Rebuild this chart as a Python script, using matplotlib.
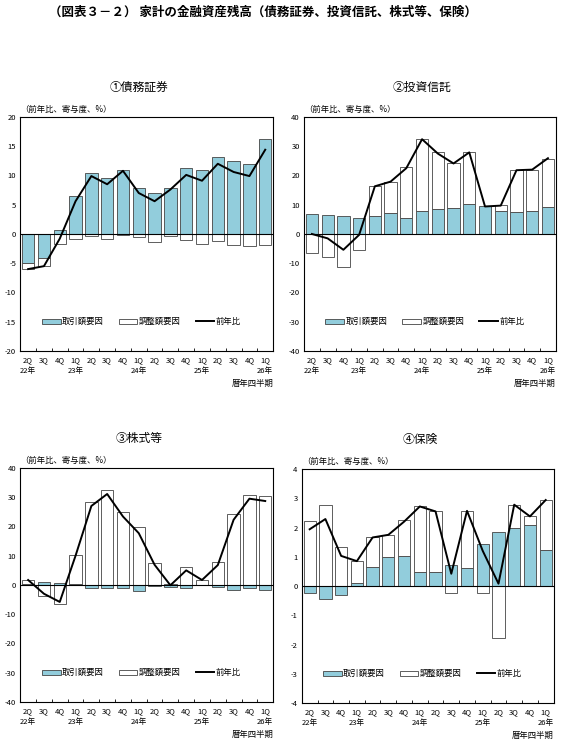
import matplotlib
matplotlib.use("Agg")
import matplotlib.pyplot as plt
import numpy as np
from matplotlib.patches import Patch
from matplotlib.lines import Line2D

plt.rcParams['font.family'] = ['Noto Sans CJK JP', 'DejaVu Sans']
plt.rcParams['axes.unicode_minus'] = False

# data
quarters = ['2Q', '3Q', '4Q', '1Q', '2Q', '3Q', '4Q', '1Q',
            '2Q', '3Q', '4Q', '1Q', '2Q', '3Q', '4Q', '1Q']
year_pos = [0, 3, 7, 11, 15]
year_labels = ['22年', '23年', '24年', '25年', '26年']

# ① 債務証券
tx1 = [-5.0, -4.15, 0.7, 6.55, 10.45, 9.5, 11.0, 7.8, 7.0, 7.8, 11.2, 10.9, 13.2, 12.5, 11.95, 16.3]
adj1 = [-1.0, -1.3, -1.65, -0.85, -0.4, -0.9, -0.2, -0.6, -1.4, -0.4, -1.1, -1.75, -1.25, -1.9, -2.1, -1.9]
yoy1 = [-6.0, -5.5, -0.8, 5.6, 9.9, 8.5, 10.8, 7.0, 5.6, 7.6, 10.1, 9.1, 12.0, 10.6, 9.9, 14.4]

# ② 投資信託
tx2 = [6.85, 6.4, 6.0, 5.35, 6.0, 7.1, 5.35, 8.0, 8.7, 9.0, 10.1, 9.5, 7.75, 7.65, 7.75, 9.1]
adj2 = [-6.6, -8.0, -11.4, -5.6, 10.4, 10.8, 17.45, 24.4, 19.2, 15.1, 17.8, 0.0, 2.05, 14.15, 14.25, 16.7]
yoy2 = [0.0, -1.5, -5.4, -0.3, 16.3, 17.9, 22.5, 32.4, 27.5, 24.1, 27.9, 9.4, 9.7, 21.8, 22.0, 25.9]

# ③ 株式等
tx3 = [0.5, 0.9, 0.7, 0.4, -1.2, -1.0, -1.2, -1.9, -0.3, -0.6, -1.0, -0.1, -0.8, -1.8, -1.1, -1.8]
adj3 = [1.3, -3.8, -6.4, 9.7, 28.5, 32.4, 24.9, 19.8, 7.5, 0.3, 6.3, 1.7, 7.7, 24.2, 30.8, 30.4]
yoy3 = [1.7, -3.0, -5.8, 10.0, 27.0, 31.1, 23.4, 17.7, 6.9, -0.1, 5.0, 1.7, 6.8, 22.3, 29.5, 28.7]

# ④ 保険
tx4 = [-0.25, -0.45, -0.3, 0.1, 0.65, 0.98, 1.02, 0.48, 0.48, 0.72, 0.6, 1.43, 1.85, 1.98, 2.1, 1.22]
adj4 = [2.22, 2.76, 1.34, 0.75, 1.01, 0.76, 1.22, 2.24, 2.07, -0.25, 1.97, -0.25, -1.77, 0.8, 0.28, 1.72]
yoy4 = [1.94, 2.29, 1.03, 0.85, 1.66, 1.75, 2.2, 2.72, 2.55, 0.42, 2.57, 1.2, 0.08, 2.78, 2.38, 2.94]

panels = [
    ('①債務証券', tx1, adj1, yoy1, 20, 5, [0.036, 0.5295, 0.450, 0.3137]),
    ('②投資信託', tx2, adj2, yoy2, 40, 10, [0.541, 0.5295, 0.448, 0.3137]),
    ('③株式等', tx3, adj3, yoy3, 40, 10, [0.036, 0.059, 0.450, 0.3137]),
    ('④保険', tx4, adj4, yoy4, 4, 1, [0.537, 0.0576, 0.448, 0.3137]),
]

BLUE = '#92CDDC'
EDGE = '#444444'

fig = plt.figure(figsize=(5.62, 7.46), dpi=100)
fig.text(0.468, 0.992, '（図表３－２） 家計の金融資産残高（債務証券、投資信託、株式等、保険）',
         ha='center', va='top', fontsize=9, fontweight='bold')

for title, tx, adj, yoy, lim, step, rect in panels:
    ax = fig.add_axes(rect)
    x = np.arange(len(quarters))
    tx = np.array(tx)
    adj = np.array(adj)
    # stack: same sign on top of blue, otherwise from zero
    bottom = np.where(np.sign(adj) == np.sign(tx), tx, 0)
    ax.bar(x, tx, width=0.78, color=BLUE, edgecolor=EDGE, linewidth=0.6, zorder=2)
    ax.bar(x, adj, width=0.78, bottom=bottom, color='white', edgecolor=EDGE,
           linewidth=0.6, zorder=2)
    ax.plot(x, yoy, color='black', lw=1.4, zorder=4)
    ax.axhline(0, color='black', lw=0.8, zorder=3)

    ax.set_xlim(-0.5, len(quarters) - 0.5)
    ax.set_ylim(-lim, lim)
    yt = np.arange(-lim, lim + step / 2, step)
    ax.set_yticks(yt)
    ax.set_yticklabels([f'{v:g}' for v in yt])
    ax.set_xticks(x)
    ax.set_xticklabels(quarters)
    ax.set_xticks(np.arange(0.5, len(quarters) - 0.5, 1), minor=True)
    ax.tick_params(axis='x', which='major', length=0, labelsize=5.5, pad=4)
    ax.tick_params(axis='x', which='minor', direction='in', length=2.5, width=0.6)
    ax.tick_params(axis='y', direction='in', length=0, labelsize=5.5, pad=3)
    for s in ax.spines.values():
        s.set_linewidth(0.8)

    for p, lab in zip(year_pos, year_labels):
        ax.text(p, -0.07, lab, transform=ax.get_xaxis_transform(), ha='center', va='top',
                fontsize=5.5)
    ax.text(1.0, -0.118, '暦年四半期', transform=ax.transAxes, ha='right', va='top', fontsize=6)
    ax.text(0.0, 1.015, '（前年比、寄与度、%）', transform=ax.transAxes, ha='left',
            va='bottom', fontsize=6)
    ax.text(0.47, 1.128, title, transform=ax.transAxes, ha='center', va='center', fontsize=8.5)

    handles = [Patch(facecolor=BLUE, edgecolor=EDGE, linewidth=0.6),
               Patch(facecolor='white', edgecolor=EDGE, linewidth=0.6),
               Line2D([], [], color='black', lw=1.4)]
    ax.legend(handles, ['取引額要因', '調整額要因', '前年比'], loc='center',
              bbox_to_anchor=(0.48, 0.125), ncol=3, frameon=False, fontsize=6,
              handlelength=2.2, handleheight=0.6, handletextpad=0.2, columnspacing=1.8)

fig.savefig('out.png', dpi=100)
